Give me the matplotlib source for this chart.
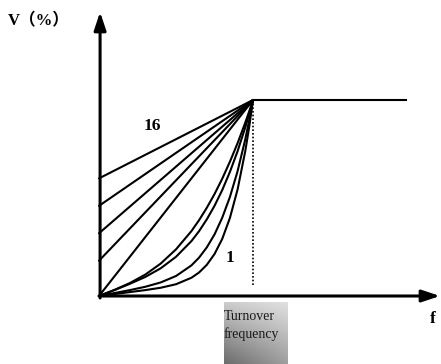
import numpy as np
import matplotlib
matplotlib.use("Agg")
import matplotlib.pyplot as plt

# frequency as a fraction of the turnover frequency
f = [0.0, 0.1, 0.2, 0.3, 0.4, 0.5, 0.6, 0.65, 0.7, 0.75, 0.8, 0.85, 0.9, 0.95, 0.975, 1.0]

# curves that bend below the straight line
curves = [
    [0, .031, .066, .109, .165, .238, .331, .387, .450, .520, .598, .685, .780, .885, .941, 1],
    [0, .030, .062, .097, .141, .200, .280, .331, .391, .460, .540, .633, .739, .861, .928, 1],
    [0, .015, .030, .047, .069, .102, .156, .196, .248, .314, .399, .505, .637, .800, .895, 1],
    [0, .010, .020, .030, .042, .060, .093, .120, .159, .214, .291, .398, .544, .740, .861, 1],
]
# straight lines: starting voltage at f = 0
boosts = [0.60, 0.46, 0.32, 0.18, 0.0]

# pixel layout of the reference: f=0 at x=99, f=1 at x=253; V=0 at y=296, V=1 at y=100
W, H = 441, 364
X0, XS, Y0, YS = 99, 154, 296, 196

fig = plt.figure(figsize=(W / 100, H / 100), dpi=100)
ax = fig.add_axes([0, 0, 1, 1])
ax.set_xlim(-X0 / XS, (W - X0) / XS)
ax.set_ylim((Y0 - H) / YS, Y0 / YS)
ax.axis("off")

serif = ["Liberation Serif", "Noto Sans CJK SC", "DejaVu Sans"]

for v in curves:
    ax.plot(f, v, color="black", lw=1.5, solid_capstyle="round", solid_joinstyle="round")
for b in boosts:
    ax.plot([0, 1], [b, 1], color="black", lw=1.5, solid_capstyle="round")

# constant voltage above turnover, dotted drop line at turnover
ax.plot([1, (406 - X0) / XS], [1, 1], color="black", lw=1.5)
ax.plot([1.003, 1.003], [1, 0.046], color="black", lw=1.2, ls=(0, (1, 1.2)))

# axes with arrows
arrow = dict(arrowstyle="-|>,head_length=0.6,head_width=0.2", color="black",
             lw=2.2, mutation_scale=18, shrinkA=0, shrinkB=0)
ax.annotate("", xy=((440 - X0) / XS, 0), xytext=(0, 0), arrowprops=arrow)
ax.annotate("", xy=(0.007, (Y0 - 12) / YS), xytext=(0.007, -0.01), arrowprops=arrow)

ax.text(-X0 / XS + 8 / XS, (Y0 - 21.5) / YS, "V（%）", family=serif,
        fontsize=12, fontweight="bold", ha="left", va="center")
ax.text((433 - X0) / XS, (Y0 - 319) / YS, "f", family=serif,
        fontsize=12.5, fontweight="bold", ha="center", va="center")
ax.text((152 - X0) / XS, (Y0 - 126.5) / YS, "16", family=serif,
        fontsize=12.5, fontweight="bold", ha="center", va="center")
ax.text((230 - X0) / XS, (Y0 - 257.5) / YS, "1", family=serif,
        fontsize=12.5, fontweight="bold", ha="center", va="center")

# grey gradient box under the turnover point
bx0, bx1 = (224 - X0) / XS, (288 - X0) / XS
by0, by1 = (Y0 - 364) / YS, (Y0 - 303) / YS
u = np.linspace(0, 1, 64)
vv = np.linspace(0, 1, 64)[:, None]
tl, tr, bl, br = 0.80, 0.88, 0.42, 0.62
grad = (tl * (1 - u) * (1 - vv) + tr * u * (1 - vv) + bl * (1 - u) * vv + br * u * vv)
ax.imshow(grad, cmap="gray", vmin=0, vmax=1, extent=[bx0, bx1, by0, by1],
          origin="upper", aspect="auto", interpolation="bilinear", zorder=1)
ax.text((224 - X0) / XS, (Y0 - 320) / YS, "Turnover", family=serif,
        fontsize=10, color="#1a1a1a", ha="left", va="baseline", zorder=2)
ax.text((224 - X0) / XS, (Y0 - 338) / YS, "frequency", family=serif,
        fontsize=10, color="#1a1a1a", ha="left", va="baseline", zorder=2)

fig.savefig("out.png", dpi=100)
